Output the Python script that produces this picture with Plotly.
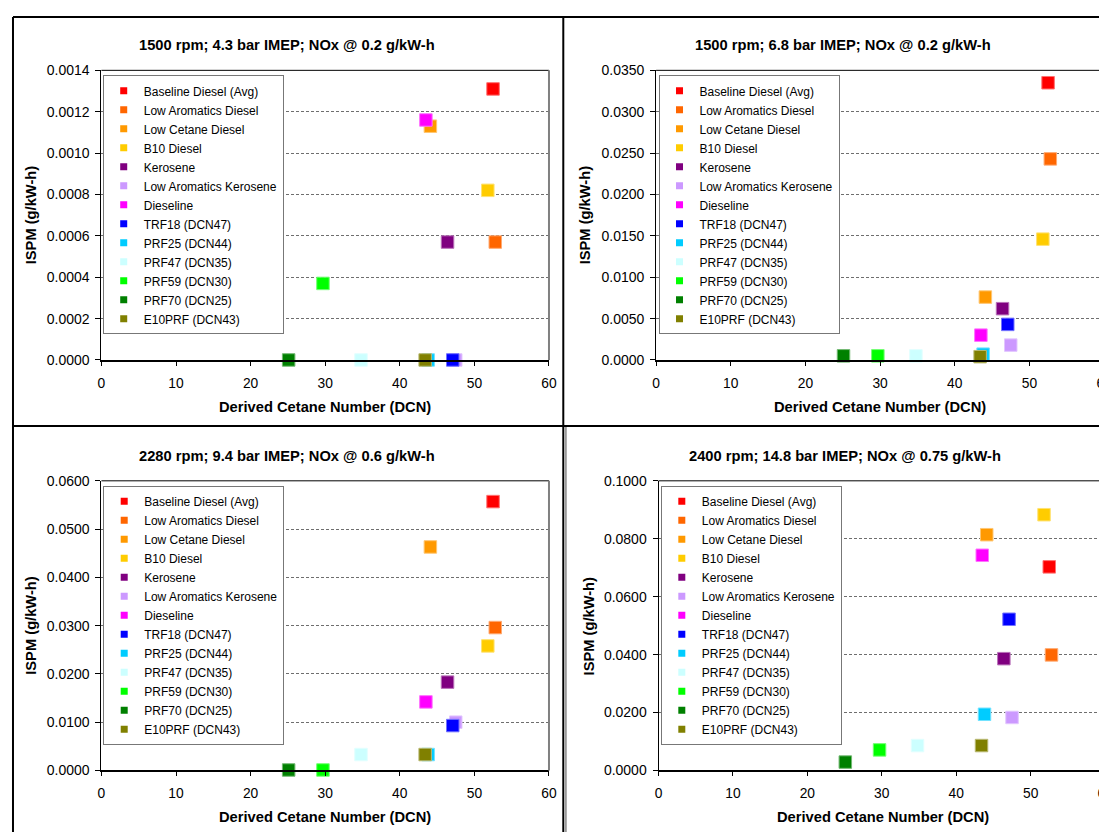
import plotly.graph_objects as go

# ---------------- data ----------------
series = ["Baseline Diesel (Avg)", "Low Aromatics Diesel", "Low Cetane Diesel", "B10 Diesel",
          "Kerosene", "Low Aromatics Kerosene", "Dieseline", "TRF18 (DCN47)", "PRF25 (DCN44)",
          "PRF47 (DCN35)", "PRF59 (DCN30)", "PRF70 (DCN25)", "E10PRF (DCN43)"]
colors = ["#FF0000", "#FF6600", "#FF9900", "#FFCC00", "#800080", "#CC99FF", "#FF00FF",
          "#0000FF", "#00CCFF", "#CCFFFF", "#00FF00", "#008000", "#808000"]
dcn = [52.5, 52.8, 44.1, 51.8, 46.4, 47.5, 43.5, 47.1, 43.8, 34.8, 29.7, 25.1, 43.4]

ispm_1500_43 = [0.00131, 0.00057, 0.00113, 0.00082, 0.00057, 0.0, 0.00116, 0.0, 0.0, 0.0, 0.00037, 0.0, 0.0]
ispm_1500_68 = [0.0335, 0.0243, 0.0076, 0.0146, 0.0062, 0.0018, 0.0030, 0.0043, 0.0007, 0.0005, 0.0005, 0.0005, 0.0004]
ispm_2280_94 = [0.0557, 0.0296, 0.0463, 0.0258, 0.0183, 0.0100, 0.0142, 0.0093, 0.0033, 0.0033, 0.0001, 0.0001, 0.0033]
ispm_2400_148 = [0.0703, 0.0399, 0.0814, 0.0883, 0.0386, 0.0183, 0.0743, 0.0522, 0.0194, 0.0086, 0.0071, 0.0029, 0.0086]

panel_titles = ["1500 rpm; 4.3 bar IMEP; NOx @ 0.2 g/kW-h",
                "1500 rpm; 6.8 bar IMEP; NOx @ 0.2 g/kW-h",
                "2280 rpm; 9.4 bar IMEP; NOx @ 0.6 g/kW-h",
                "2400 rpm; 14.8 bar IMEP; NOx @ 0.75 g/kW-h"]
panel_values = [ispm_1500_43, ispm_1500_68, ispm_2280_94, ispm_2400_148]
y_max = [0.0014, 0.035, 0.06, 0.1]
y_step = [0.0002, 0.005, 0.01, 0.02]
x_title = "Derived Cetane Number (DCN)"
y_title = "ISPM (g/kW-h)"

# ---------------- layout geometry ----------------
# target positions are given in screenshot pixels; convert to figure pixels
W, H = 1107, 833
SX, CX = 0.989, 11.3
SY, CY = 0.982, 14.6
FONT = "Liberation Sans, Arial, sans-serif"


def fx(x):
    return min(max((x - CX) / SX, 1.0), W - 1.0)


def fy(y):
    return min(max((y - CY) / SY, 1.0), H - 1.0)


def px(x):
    return fx(x) / W


def py(y):
    return 1 - fy(y) / H


boxes = [(100.7, 548.2, 69, 359), (655.3, 1103.2, 69, 359),
         (100.7, 548.2, 480, 770), (657.7, 1104.2, 480, 770)]
legend_pos = [(102, 74), (657.7, 74), (102.5, 485), (660, 485)]
title_pos = [(286.6, 44), (842, 44), (286.6, 455), (844, 455)]
xtitle_pos = [(324.5, 406), (879, 406), (324.5, 817), (881.7, 817)]
ytitle_pos = [(30.4, 214), (584.4, 214), (30.4, 625), (588, 625)]


def lighten(hexc, f=0.45):
    r, g, b = int(hexc[1:3], 16), int(hexc[3:5], 16), int(hexc[5:7], 16)
    r, g, b = [int(c + (255 - c) * f) for c in (r, g, b)]
    return f"rgb({r},{g},{b})"


fig = go.Figure()
layout = dict(width=W, height=H, margin=dict(l=0, r=0, t=0, b=0),
              paper_bgcolor="white", plot_bgcolor="white",
              font=dict(family=FONT, color="black"), showlegend=True,
              shapes=[], annotations=[])

for p in range(4):
    n = "" if p == 0 else str(p + 1)
    xa, ya, leg = "x" + n, "y" + n, "legend" + n
    x0, x1, y0, y1 = boxes[p]
    vals = panel_values[p]
    for i, name in enumerate(series):
        fig.add_trace(go.Scatter(
            x=[dcn[i]], y=[vals[i]], mode="markers", name=name, xaxis=xa, yaxis=ya,
            showlegend=False, cliponaxis=False,
            marker=dict(symbol="square", size=12.5, color=colors[i],
                        line=dict(width=1, color=lighten(colors[i])))))
    for i, name in enumerate(series):
        fig.add_trace(go.Scatter(
            x=[None], y=[None], mode="markers", name=name, xaxis=xa, yaxis=ya,
            legend=leg, showlegend=True,
            marker=dict(symbol="square", size=7, color=colors[i])))

    layout["xaxis" + n] = dict(
        domain=[px(x0), px(x1)], anchor=ya, range=[0, 60], dtick=10, tick0=0,
        showline=True, linecolor="black", linewidth=2, ticks="outside", ticklen=4,
        tickcolor="black", showgrid=False, zeroline=False, fixedrange=True,
        tickfont=dict(size=13.8, color="black", family=FONT), ticklabelstandoff=5)
    layout["yaxis" + n] = dict(
        domain=[py(y1), py(y0)], anchor=xa, range=[0, y_max[p]], dtick=y_step[p], tick0=0,
        tickformat=".4f", showline=True, linecolor="black", linewidth=1,
        ticks="outside", ticklen=5, tickcolor="black", showgrid=True,
        gridcolor="#6e6e6e", griddash="3px,2px", gridwidth=1, zeroline=False,
        fixedrange=True, tickfont=dict(size=14, color="black", family=FONT),
        ticklabelstandoff=3)
    lx, ly = legend_pos[p]
    layout[leg] = dict(x=px(lx), y=py(ly), xanchor="left", yanchor="top",
                       bgcolor="white", bordercolor="#777777", borderwidth=1,
                       font=dict(size=12, family=FONT, color="black"),
                       traceorder="normal", itemclick=False, itemdoubleclick=False)
    # plot-area top and right borders
    layout["shapes"].append(dict(type="line", xref="paper", yref="paper",
                                 x0=px(x0), x1=px(x1), y0=py(y0), y1=py(y0),
                                 line=dict(color="black", width=1), layer="above"))
    layout["shapes"].append(dict(type="line", xref="paper", yref="paper",
                                 x0=px(x1), x1=px(x1), y0=py(y0), y1=py(y1),
                                 line=dict(color="#808080", width=2), layer="above"))
    tx, ty = title_pos[p]
    layout["annotations"].append(dict(text="<b>%s</b>" % panel_titles[p], xref="paper", yref="paper",
                                      x=px(tx), y=py(ty), xanchor="center", yanchor="middle",
                                      showarrow=False, font=dict(size=14.7, family=FONT)))
    tx, ty = xtitle_pos[p]
    layout["annotations"].append(dict(text="<b>%s</b>" % x_title, xref="paper", yref="paper",
                                      x=px(tx), y=py(ty), xanchor="center", yanchor="middle",
                                      showarrow=False, font=dict(size=14.7, family=FONT)))
    tx, ty = ytitle_pos[p]
    layout["annotations"].append(dict(text="<b>%s</b>" % y_title, xref="paper", yref="paper",
                                      x=px(tx), y=py(ty), xanchor="center", yanchor="middle",
                                      textangle=-90, showarrow=False, font=dict(size=14.7, family=FONT)))

# chart-frame borders
frame = [((7, 15), (1107, 15)), ((7.5, 15), (7.5, 833)), ((562.5, 15), (562.5, 833)),
         ((7, 425), (1107, 425))]
for (a, b) in frame:
    layout["shapes"].append(dict(type="line", xref="paper", yref="paper",
                                 x0=px(a[0]), y0=py(a[1]), x1=px(b[0]), y1=py(b[1]),
                                 line=dict(color="black", width=2), layer="above"))
layout["shapes"].append(dict(type="line", xref="paper", yref="paper",
                             x0=px(565), y0=py(426), x1=px(565), y1=py(833),
                             line=dict(color="#9a9a9a", width=2), layer="above"))

fig.update_layout(**layout)
fig.write_html("out.html", config={"displayModeBar": False})
